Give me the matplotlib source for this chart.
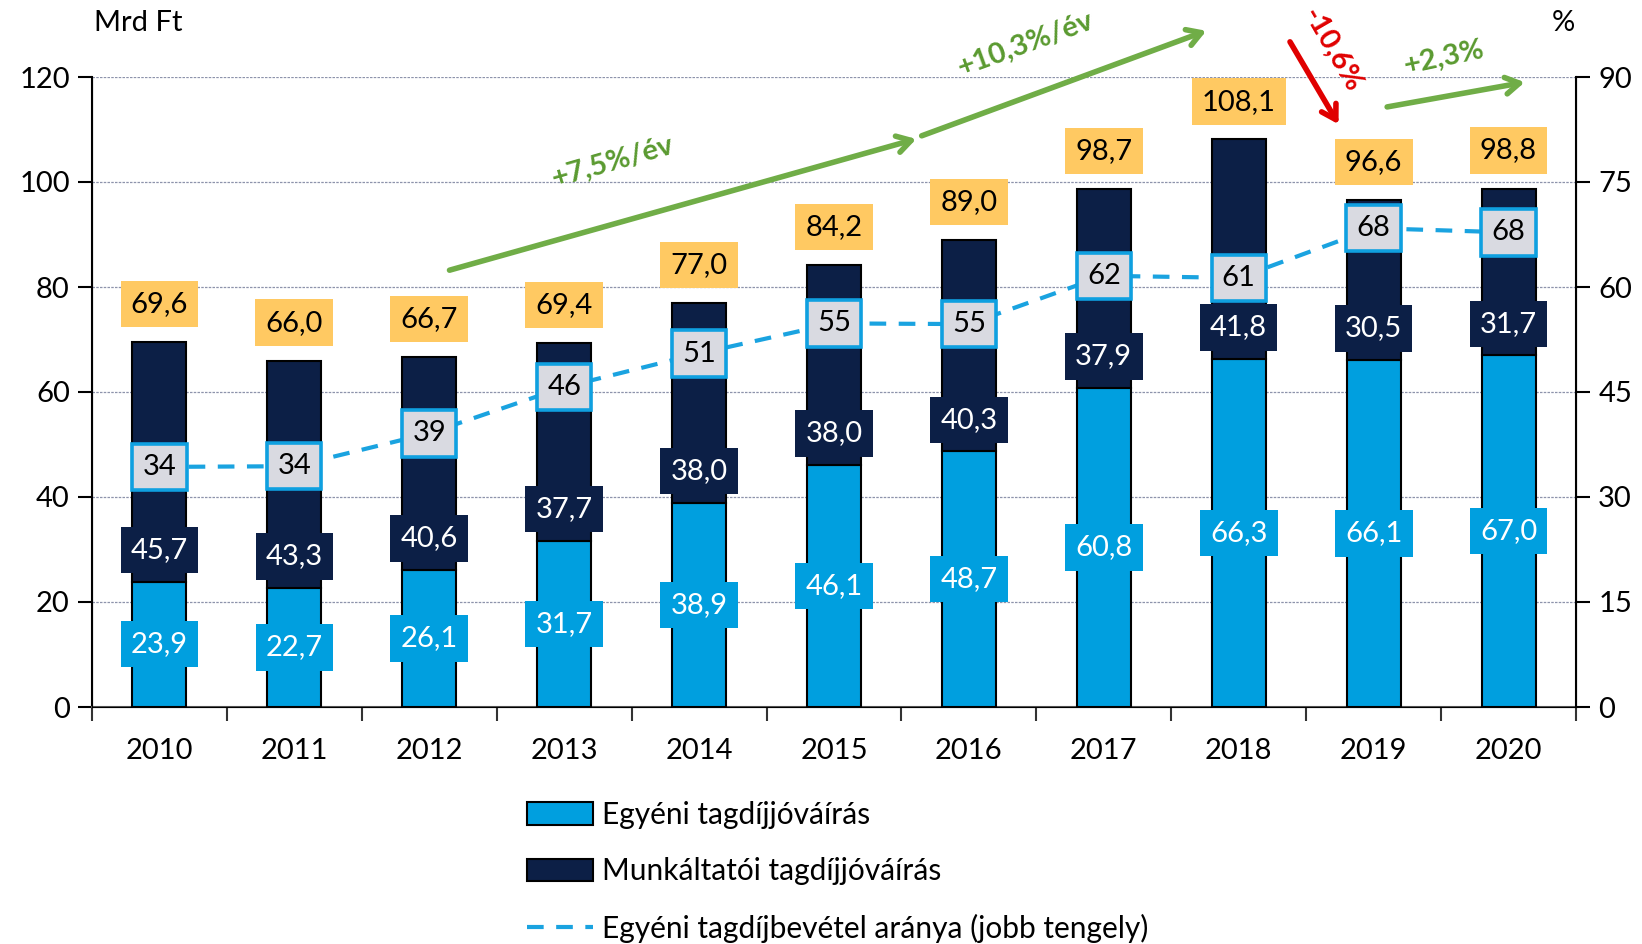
import numpy as np
import matplotlib
matplotlib.use("Agg")
import matplotlib.pyplot as plt

plt.rcParams['font.family'] = ['Lato', 'DejaVu Sans']

# adatok
years = ['2010', '2011', '2012', '2013', '2014', '2015', '2016', '2017', '2018', '2019', '2020']
egyeni = [23.9, 22.7, 26.1, 31.7, 38.9, 46.1, 48.7, 60.8, 66.3, 66.1, 67.0]
munkaltatoi = [45.7, 43.3, 40.6, 37.7, 38.0, 38.0, 40.3, 37.9, 41.8, 30.5, 31.7]
osszesen = [69.6, 66.0, 66.7, 69.4, 77.0, 84.2, 89.0, 98.7, 108.1, 96.6, 98.8]
arany = [34.3, 34.4, 39.1, 45.7, 50.5, 54.8, 54.7, 61.6, 61.3, 68.4, 67.8]

LIGHT = '#009fdf'
DARK = '#0c1f46'
YELLOW = '#ffc962'
GREEN = '#70ad47'
GREEN_TXT = '#5a9a30'
RED = '#e00000'
FS = 21

x = np.arange(len(years))

fig = plt.figure(figsize=(16.42, 9.44), dpi=100)
ax = fig.add_axes([92/1642, 1-707/944, (1576-92)/1642, 630/944])
ax2 = ax.twinx()

ax.bar(x, egyeni, width=0.4, color=LIGHT, edgecolor='black', linewidth=1.5, zorder=3,
       label='Egyéni tagdíjjóváírás')
ax.bar(x, munkaltatoi, width=0.4, bottom=egyeni, color=DARK, edgecolor='black', linewidth=1.5,
       zorder=3, label='Munkáltatói tagdíjjóváírás')

ax.set_xlim(-0.5, len(years) - 0.5)
ax.set_ylim(0, 120)
ax.set_yticks(range(0, 121, 20))
ax.yaxis.grid(True, color='#8d93ab', linestyle=(0, (2, 1)), linewidth=0.9, zorder=0)
ax.set_axisbelow(True)

ax.set_xticks(x)
ax.set_xticklabels(years)
ax.set_xticks(np.arange(-0.5, len(years), 1), minor=True)
ax.tick_params(axis='x', which='major', length=0, pad=22, labelsize=FS)
ax.tick_params(axis='x', which='minor', length=10, width=1.5, direction='out', color='#333333')
ax.tick_params(axis='y', length=10, width=1.5, labelsize=FS, pad=6)

ax.spines['top'].set_visible(False)
ax2.spines['top'].set_visible(False)
ax.spines['left'].set_linewidth(1.5)
ax.spines['bottom'].set_linewidth(1.5)
ax.spines['bottom'].set_color('#555555')
ax2.spines['right'].set_linewidth(1.5)

ax2.plot(x, arany, color='#1aa3e0', linewidth=3, linestyle=(0, (4, 3)), zorder=4,
         label='Egyéni tagdíjbevétel aránya (jobb tengely)')
ax2.set_ylim(0, 90)
ax2.set_yticks(range(0, 91, 15))
ax2.tick_params(axis='y', length=10, width=1.5, labelsize=FS, pad=6)

# adatfeliratok
for i in range(len(years)):
    ax.text(x[i], egyeni[i] / 2, f'{egyeni[i]:.1f}'.replace('.', ','), ha='center', va='center',
            fontsize=FS, color='white', zorder=6,
            bbox=dict(boxstyle='square,pad=0.35', fc=LIGHT, ec='none'))
    ax.text(x[i], egyeni[i] + 6, f'{munkaltatoi[i]:.1f}'.replace('.', ','), ha='center', va='center',
            fontsize=FS, color='white', zorder=6,
            bbox=dict(boxstyle='square,pad=0.35', fc=DARK, ec='none'))
    ax.text(x[i], osszesen[i] + 7.2, f'{osszesen[i]:.1f}'.replace('.', ','), ha='center', va='center',
            fontsize=FS, color='black', zorder=6,
            bbox=dict(boxstyle='square,pad=0.35', fc=YELLOW, ec='none'))
    ax2.text(x[i], arany[i], str(int(arany[i] + 0.5)), ha='center', va='center',
             fontsize=FS, color='black', zorder=7,
             bbox=dict(boxstyle='square,pad=0.35', fc='#d9dae1', ec='#0fa0e0', lw=2.6))

# nyilak
def nyil(x0, y0, x1, y1, color):
    ax.annotate('', xy=(x1, y1), xytext=(x0, y0), annotation_clip=False, zorder=8,
                arrowprops=dict(arrowstyle='->,head_length=1.0,head_width=0.6', lw=4,
                                color=color, shrinkA=0, shrinkB=0))

nyil(2.15, 83.2, 5.61, 108.2, GREEN)
nyil(5.65, 108.8, 7.76, 128.8, GREEN)
nyil(8.38, 126.7, 8.74, 111.0, RED)
nyil(9.10, 114.3, 10.12, 119.0, GREEN)

ax.text(3.36, 103.8, '+7,5%/év', rotation=16, ha='center', va='center', fontsize=FS,
        fontweight='bold', color=GREEN_TXT, clip_on=False)
ax.text(6.42, 126.3, '+10,3%/év', rotation=20, ha='center', va='center', fontsize=FS,
        fontweight='bold', color=GREEN_TXT, clip_on=False)
ax.text(8.69, 125.1, '-10,6%', rotation=-60, ha='center', va='center', fontsize=FS,
        fontweight='bold', color=RED, clip_on=False)
ax.text(9.52, 123.6, '+2,3%', rotation=12, ha='center', va='center', fontsize=FS,
        fontweight='bold', color=GREEN_TXT, clip_on=False)

fig.text(94/1642, 1-23/944, 'Mrd Ft', ha='left', va='center', fontsize=FS)
fig.text(1563/1642, 1-23/944, '%', ha='center', va='center', fontsize=FS)

h1, l1 = ax.get_legend_handles_labels()
h2, l2 = ax2.get_legend_handles_labels()
fig.legend(h1 + h2, l1 + l2, loc='center left', bbox_to_anchor=(527/1642, 1-872/944),
           frameon=False, fontsize=FS + 0.5, handlelength=2.2, handleheight=0.8, handletextpad=0.3,
           labelspacing=0.95, borderpad=0, borderaxespad=0)

fig.savefig('out.png', dpi=100)
